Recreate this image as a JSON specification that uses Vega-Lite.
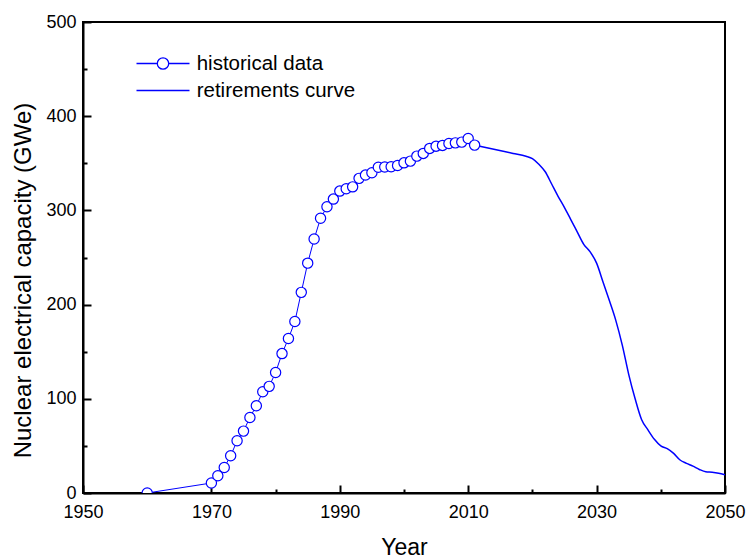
{
  "$schema": "https://vega.github.io/schema/vega-lite/v6.json",
  "width": 642,
  "height": 471,
  "autosize": "none",
  "padding": {"left": 83, "top": 22, "right": 22, "bottom": 66},
  "background": "white",
  "config": {
    "font": "Liberation Sans",
    "view": {"stroke": "black", "strokeWidth": 2},
    "axis": {
      "domainColor": "black", "domainWidth": 2, "tickColor": "black", "tickWidth": 2, "grid": false,
      "labelFont": "Liberation Sans", "labelFontSize": 18, "labelColor": "black",
      "titleFont": "Liberation Sans", "titleFontSize": 23, "titleFontWeight": "normal", "titleColor": "black"
    }
  },
  "datasets": {
    "hist": [
      {"year": 1960, "value": 0, "series": "historical data"},
      {"year": 1970, "value": 10.6, "series": "historical data"},
      {"year": 1971, "value": 18.3, "series": "historical data"},
      {"year": 1972, "value": 27.1, "series": "historical data"},
      {"year": 1973, "value": 39.5, "series": "historical data"},
      {"year": 1974, "value": 55.4, "series": "historical data"},
      {"year": 1975, "value": 65.7, "series": "historical data"},
      {"year": 1976, "value": 80.2, "series": "historical data"},
      {"year": 1977, "value": 92.6, "series": "historical data"},
      {"year": 1978, "value": 107.5, "series": "historical data"},
      {"year": 1979, "value": 113.2, "series": "historical data"},
      {"year": 1980, "value": 127.9, "series": "historical data"},
      {"year": 1981, "value": 148, "series": "historical data"},
      {"year": 1982, "value": 164, "series": "historical data"},
      {"year": 1983, "value": 182, "series": "historical data"},
      {"year": 1984, "value": 213, "series": "historical data"},
      {"year": 1985, "value": 244, "series": "historical data"},
      {"year": 1986, "value": 269.6, "series": "historical data"},
      {"year": 1987, "value": 291.6, "series": "historical data"},
      {"year": 1988, "value": 303.9, "series": "historical data"},
      {"year": 1989, "value": 312, "series": "historical data"},
      {"year": 1990, "value": 320.5, "series": "historical data"},
      {"year": 1991, "value": 323, "series": "historical data"},
      {"year": 1992, "value": 325, "series": "historical data"},
      {"year": 1993, "value": 334, "series": "historical data"},
      {"year": 1994, "value": 337.5, "series": "historical data"},
      {"year": 1995, "value": 340, "series": "historical data"},
      {"year": 1996, "value": 345.8, "series": "historical data"},
      {"year": 1997, "value": 346, "series": "historical data"},
      {"year": 1998, "value": 346.3, "series": "historical data"},
      {"year": 1999, "value": 347.7, "series": "historical data"},
      {"year": 2000, "value": 350.5, "series": "historical data"},
      {"year": 2001, "value": 352.3, "series": "historical data"},
      {"year": 2002, "value": 357.6, "series": "historical data"},
      {"year": 2003, "value": 360.5, "series": "historical data"},
      {"year": 2004, "value": 365.8, "series": "historical data"},
      {"year": 2005, "value": 368.2, "series": "historical data"},
      {"year": 2006, "value": 369, "series": "historical data"},
      {"year": 2007, "value": 371, "series": "historical data"},
      {"year": 2008, "value": 371.7, "series": "historical data"},
      {"year": 2009, "value": 372.5, "series": "historical data"},
      {"year": 2010, "value": 376.4, "series": "historical data"},
      {"year": 2011, "value": 369.3, "series": "historical data"}
    ],
    "ret": [
      {"year": 2011, "value": 369.3, "series": "retirements curve"},
      {"year": 2014, "value": 365, "series": "retirements curve"},
      {"year": 2017, "value": 360.5, "series": "retirements curve"},
      {"year": 2019, "value": 357.5, "series": "retirements curve"},
      {"year": 2020, "value": 355, "series": "retirements curve"},
      {"year": 2021, "value": 349, "series": "retirements curve"},
      {"year": 2022, "value": 341, "series": "retirements curve"},
      {"year": 2023, "value": 328, "series": "retirements curve"},
      {"year": 2024, "value": 315, "series": "retirements curve"},
      {"year": 2025, "value": 303, "series": "retirements curve"},
      {"year": 2026, "value": 290, "series": "retirements curve"},
      {"year": 2027, "value": 277, "series": "retirements curve"},
      {"year": 2028, "value": 264, "series": "retirements curve"},
      {"year": 2029, "value": 256, "series": "retirements curve"},
      {"year": 2030, "value": 244, "series": "retirements curve"},
      {"year": 2031, "value": 224, "series": "retirements curve"},
      {"year": 2032, "value": 204, "series": "retirements curve"},
      {"year": 2033, "value": 183, "series": "retirements curve"},
      {"year": 2034, "value": 157, "series": "retirements curve"},
      {"year": 2035, "value": 126, "series": "retirements curve"},
      {"year": 2036, "value": 100, "series": "retirements curve"},
      {"year": 2037, "value": 78, "series": "retirements curve"},
      {"year": 2038, "value": 67, "series": "retirements curve"},
      {"year": 2039, "value": 57, "series": "retirements curve"},
      {"year": 2040, "value": 50, "series": "retirements curve"},
      {"year": 2041, "value": 47, "series": "retirements curve"},
      {"year": 2042, "value": 42, "series": "retirements curve"},
      {"year": 2043, "value": 35, "series": "retirements curve"},
      {"year": 2044, "value": 31.5, "series": "retirements curve"},
      {"year": 2045, "value": 28.5, "series": "retirements curve"},
      {"year": 2046, "value": 25, "series": "retirements curve"},
      {"year": 2047, "value": 22.5, "series": "retirements curve"},
      {"year": 2048, "value": 22, "series": "retirements curve"},
      {"year": 2049, "value": 21, "series": "retirements curve"},
      {"year": 2050, "value": 19.4, "series": "retirements curve"}
    ]
  },
  "encoding": {
    "x": {
      "field": "year", "type": "quantitative",
      "scale": {"domain": [1950, 2050], "nice": false, "zero": false},
      "axis": {
        "title": "Year",
        "values": [1950, 1960, 1970, 1980, 1990, 2000, 2010, 2020, 2030, 2040, 2050],
        "format": "d",
        "labelExpr": "datum.value % 20 == 0 ? '' : datum.label",
        "tickSize": {"condition": {"test": "datum.value % 20 == 0", "value": -4}, "value": -8},
        "labelPadding": 18,
        "labelFlush": false,
        "titlePadding": 15
      }
    },
    "y": {
      "field": "value", "type": "quantitative",
      "scale": {"domain": [0, 500], "nice": false},
      "axis": {
        "title": "Nuclear electrical capacity (GWe)",
        "titleFontSize": 24,
        "titleY": 258,
        "values": [0, 50, 100, 150, 200, 250, 300, 350, 400, 450, 500],
        "labelExpr": "datum.value % 100 == 50 ? '' : datum.label",
        "tickSize": {"condition": {"test": "datum.value % 100 == 50", "value": -4}, "value": -8},
        "labelPadding": 15,
        "labelFlush": false,
        "titlePadding": 10
      }
    }
  },
  "layer": [
    {
      "data": {"name": "hist"},
      "mark": {"type": "line", "strokeWidth": 1, "clip": true},
      "encoding": {
        "color": {
          "field": "series", "type": "nominal",
          "scale": {"domain": ["historical data", "retirements curve"], "range": ["#0000ff", "#0000ff"]},
          "legend": {
            "title": null,
            "orient": "none",
            "legendX": 52.5,
            "legendY": 31.5,
            "direction": "vertical",
            "padding": 0,
            "symbolSize": 2809,
            "clipHeight": 20,
            "rowPadding": 6,
            "labelFontSize": 20.5,
            "labelFont": "Liberation Sans",
            "labelColor": "black",
            "labelOffset": 6.2,
            "symbolOffset": 0,
            "symbolStrokeWidth": 1.3,
            "symbolStrokeColor": "#0000ff",
            "symbolFillColor": "white",
            "encode": {
              "symbols": {
                "update": {
                  "shape": {"signal": "datum.value === 'historical data' ? 'M-1,0H-0.215M0.215,0H1M0.215,0A0.215,0.215,0,1,1,-0.215,0A0.215,0.215,0,1,1,0.215,0Z' : 'M-1,0H1'"},
                  "fill": {"value": "white"},
                  "stroke": {"value": "#0000ff"},
                  "strokeWidth": {"value": 1.3},
                  "opacity": {"value": 1}
                }
              }
            }
          }
        }
      }
    },
    {
      "data": {"name": "ret"},
      "mark": {"type": "line", "strokeWidth": 1.5, "interpolate": "monotone", "clip": true},
      "encoding": {
        "color": {"field": "series", "type": "nominal"}
      }
    },
    {
      "data": {"name": "hist"},
      "mark": {"type": "point", "shape": "circle", "filled": true, "fill": "white", "stroke": "#0000ff", "strokeWidth": 1.2, "size": 105, "opacity": 1, "clip": true},
      "encoding": {}
    }
  ]
}
